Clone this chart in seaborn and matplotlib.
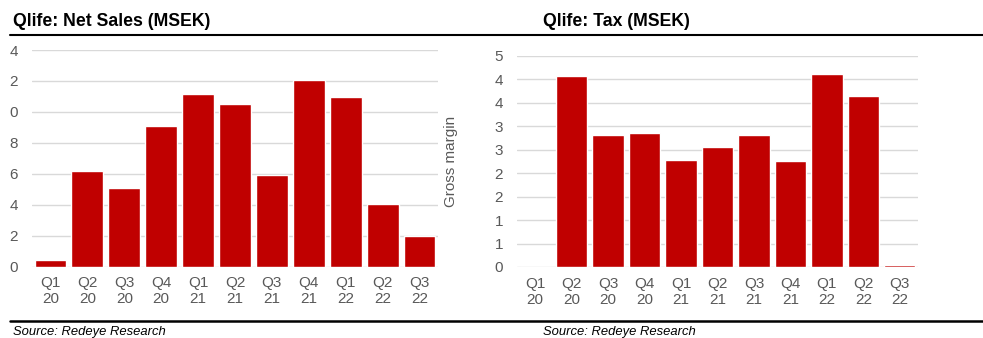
import matplotlib
matplotlib.use("Agg")
import matplotlib.pyplot as plt
from matplotlib.lines import Line2D
import seaborn as sns
import pandas as pd

quarters = ["Q1\n20", "Q2\n20", "Q3\n20", "Q4\n20", "Q1\n21", "Q2\n21",
            "Q3\n21", "Q4\n21", "Q1\n22", "Q2\n22", "Q3\n22"]
net_sales = [0.4, 6.2, 5.1, 9.1, 11.15, 10.5, 5.9, 12.05, 10.95, 4.05, 2.0]
tax = [0.0, 4.07, 2.81, 2.86, 2.28, 2.56, 2.81, 2.26, 4.11, 3.65, 0.04]

left_ticks = [0, 2, 4, 6, 8, 10, 12, 14]
left_labels = ["0", "2", "4", "6", "8", "0", "2", "4"]
right_ticks = [0, 0.5, 1.0, 1.5, 2.0, 2.5, 3.0, 3.5, 4.0, 4.5]
right_labels = ["0", "1", "1", "2", "2", "3", "3", "4", "4", "5"]

sns.set_theme(style="white")
plt.rcParams["font.family"] = ["Liberation Sans", "DejaVu Sans"]

W, H = 983, 338
fig = plt.figure(figsize=(W / 100, H / 100), dpi=100)

def ax_at(x0, y0, x1, y1):
    return fig.add_axes([x0 / W, 1 - y1 / H, (x1 - x0) / W, (y1 - y0) / H])

RED = "#C00000"
GRID = "#d9d9d9"
TXT = "#595959"

def style(ax, ticks, labels, ylim):
    ax.set_ylim(*ylim)
    ax.set_yticks(ticks)
    ax.set_yticklabels(labels)
    ax.yaxis.grid(True, color=GRID, lw=1)
    ax.set_axisbelow(True)
    for s in ax.spines.values():
        s.set_visible(False)
    ax.tick_params(axis="both", length=0, labelsize=11, colors=TXT, pad=7)
    ax.tick_params(axis="y", pad=10)
    ax.set_xlabel("")
    ax.set_ylabel("")

df1 = pd.DataFrame({"q": quarters, "v": net_sales})
df2 = pd.DataFrame({"q": quarters, "v": tax})

ax1 = ax_at(32, 50, 438, 266.5)
sns.barplot(data=df1, x="q", y="v", color=RED, saturation=1, width=0.86, ax=ax1)
style(ax1, left_ticks, left_labels, (0, 14))
ax1.set_xlim(-0.5, len(quarters) - 0.5)

ax2 = ax_at(517, 55.7, 918, 267)
sns.barplot(data=df2, x="q", y="v", color=RED, saturation=1, width=0.86, ax=ax2)
style(ax2, right_ticks, right_labels, (0, 4.5))
ax2.set_xlim(-0.5, len(quarters) - 0.5)
ax2.set_ylabel("Gross margin", fontsize=11, color=TXT, labelpad=26)

fig.text(13 / W, 1 - 22 / H, "Qlife: Net Sales (MSEK)", fontsize=12.7, fontweight="bold",
         color="black", va="center", ha="left")
fig.text(543 / W, 1 - 22 / H, "Qlife: Tax (MSEK)", fontsize=12.7, fontweight="bold",
         color="black", va="center", ha="left")
fig.add_artist(Line2D([10 / W, 1], [1 - 35 / H, 1 - 35 / H], color="black", lw=1.5))
fig.add_artist(Line2D([10 / W, 1], [1 - 321 / H, 1 - 321 / H], color="black", lw=1.8))
fig.text(13 / W, 1 - 332 / H, "Source: Redeye Research", fontsize=9.4, style="italic",
         color="black", va="center", ha="left")
fig.text(543 / W, 1 - 332 / H, "Source: Redeye Research", fontsize=9.4, style="italic",
         color="black", va="center", ha="left")

fig.savefig("out.png", dpi=100)
